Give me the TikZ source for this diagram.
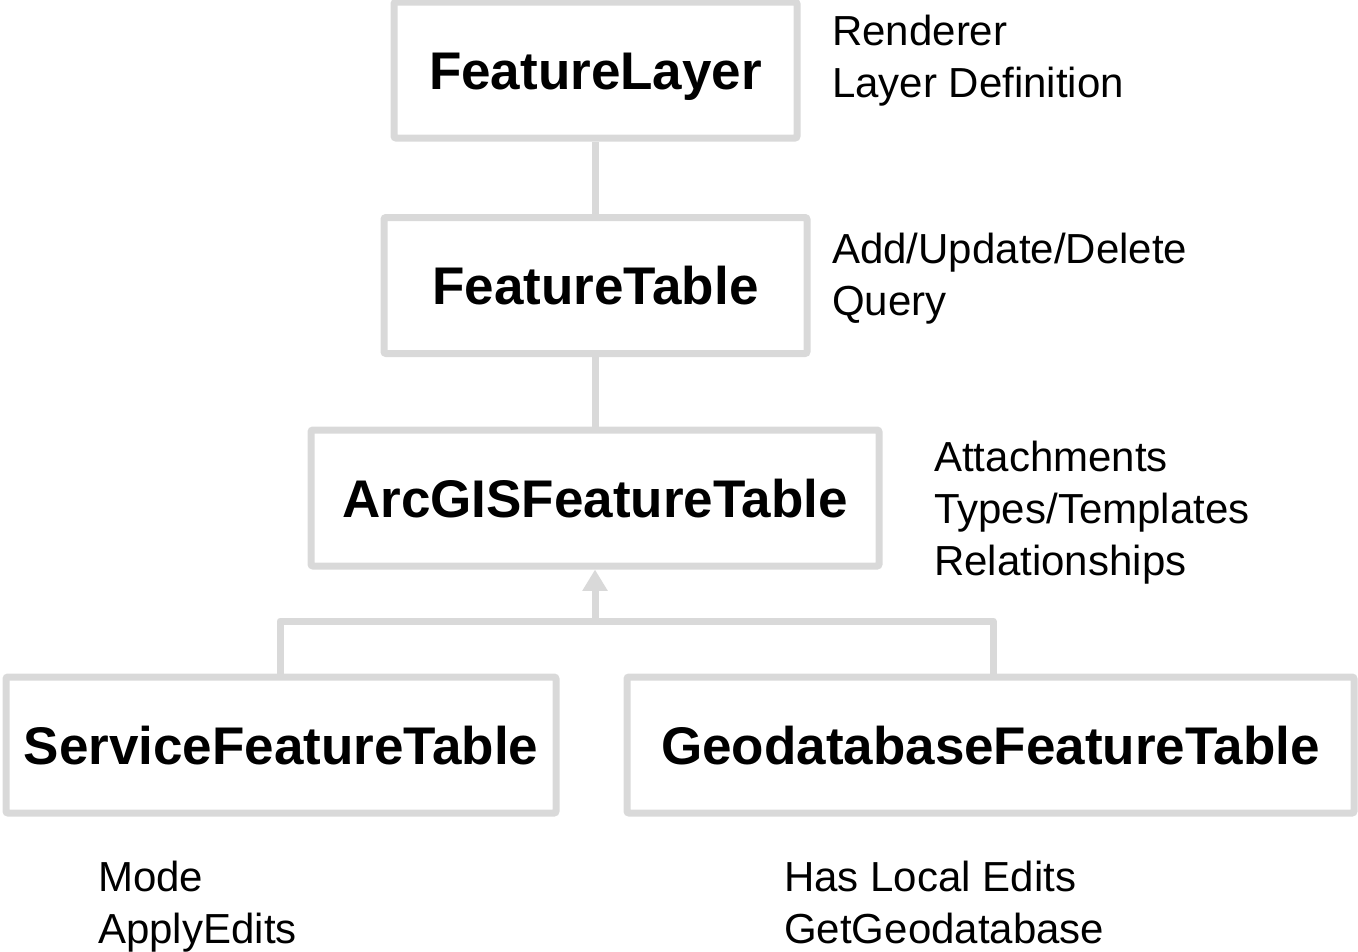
\documentclass[tikz,border=0pt]{standalone}
\usepackage{fontspec}
\setmainfont{Liberation Sans}
\usepackage{tikz}
\usetikzlibrary{arrows.meta}
\definecolor{linegray}{HTML}{D9D9D9}

\begin{document}
\begin{tikzpicture}[
    x=0.75pt,y=-0.75pt,
    box/.style={draw=linegray, line width=5.25pt, rounded corners=1.5pt, inner sep=0,
      minimum height=102pt, text height=28.5pt, text depth=0pt,
      font=\fontsize{39.75}{44}\selectfont\bfseries},
    note/.style={anchor=base west, inner sep=0, align=left,
      font=\fontsize{31.5}{39}\selectfont},
    link/.style={draw=linegray, line width=5.25pt, line join=round}
    ]
    \useasboundingbox (0, 0) rectangle (1358, 951);
    \node[box, minimum width=302.25pt] (layer) at (595.5, 70) {FeatureLayer};
    \node[box, minimum width=317.25pt] (table) at (595.5, 285.5) {FeatureTable};
    \node[box, minimum width=426pt] (arcgis) at (595, 498) {ArcGISFeatureTable};
    \node[box, minimum width=412.5pt] (service) at (281, 745) {ServiceFeatureTable};
    \node[box, minimum width=545.25pt] (gdb) at (990.5, 745) {GeodatabaseFeatureTable};
    \coordinate (bar) at (595, 621);
    \coordinate (barL) at (280, 621);
    \coordinate (barR) at (993, 621);
    \draw[link] (layer) -- (table);
    \draw[link] (table.south) -- (table.south |- arcgis.north);
    \draw[link] (service.north -| barL) -- (barL) -- (barR) -- (gdb.north -| barR);
    \draw[link, -{Triangle[length=16pt, width=18pt]}] (bar) -- (arcgis.south);
    \node[note] (layernote) at (832, 97) {Renderer\\Layer Definition};
    \node[note] (tablenote) at (832, 315) {Add/Update/Delete\\Query};
    \node[note] (arcgisnote) at (934, 575) {Attachments\\Types/Templates\\Relationships};
    \node[note] (servicenote) at (98, 943) {Mode\\ApplyEdits};
    \node[note] (gdbnote) at (784, 943) {Has Local Edits\\GetGeodatabase};
  \end{tikzpicture}
\end{document}
